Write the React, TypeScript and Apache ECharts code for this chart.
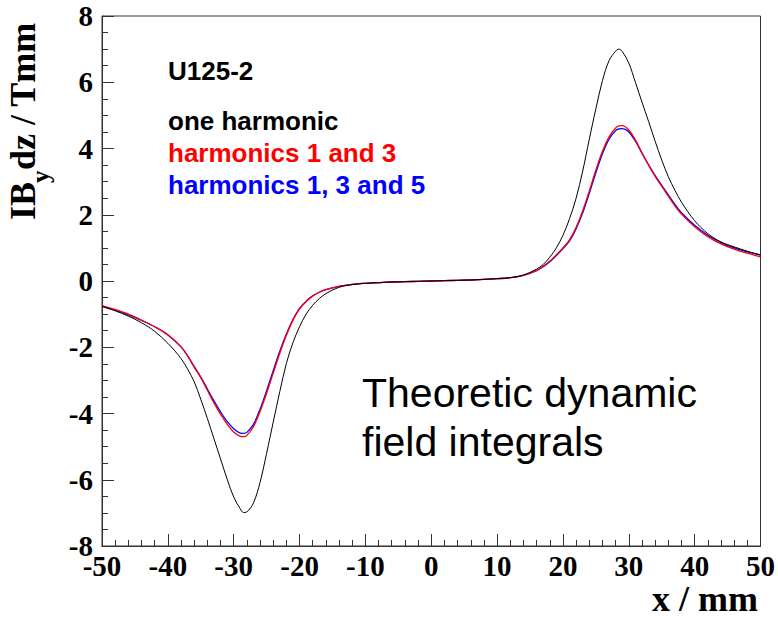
import React, { useEffect, useRef } from "react";
import * as echarts from "echarts";

// Longitudinal position x (mm)
const xPositions = [
  -50, -48, -46, -44, -42, -40, -38,
  -37, -36, -35, -34, -33, -32, -31, -30, -29, -28.5, -28, -27, -26, -25, -24, -23, -22, -21, -20, -19, -18, -17, -16,
  -14, -12, -10, -8, -6, -4, -2, 0, 2, 4, 6, 8, 10, 12, 14,
  16, 17, 18, 19, 20, 21, 22, 23, 24, 25, 26, 27, 28, 28.5, 29, 30, 31, 32, 33, 34, 35, 36, 37,
  38, 40, 42, 44, 46, 48, 50,
];

// Field integral, fundamental only (T mm)
const oneHarmonic = [
  -0.77, -0.9, -1.06, -1.26, -1.52, -1.88, -2.34,
  -2.66, -3.04, -3.57, -4.15, -4.76, -5.37, -5.98, -6.52, -6.88, -6.99, -6.97, -6.7, -6.08, -5.2, -4.26, -3.34, -2.49, -1.86, -1.38, -1.0, -0.73, -0.53, -0.38,
  -0.19, -0.11, -0.07, -0.05, -0.03, -0.02, -0.01, 0, 0.01, 0.02, 0.03, 0.05, 0.07, 0.1, 0.18,
  0.36, 0.5, 0.72, 1.0, 1.38, 1.88, 2.5, 3.32, 4.28, 5.2, 6.05, 6.65, 6.94, 7.0, 6.93, 6.58, 6.0, 5.4, 4.82, 4.22, 3.65, 3.15, 2.74,
  2.38, 1.82, 1.43, 1.18, 1.03, 0.9, 0.78,
];

// Field integral, harmonics 1 and 3 (T mm)
const harmonics13 = [
  -0.74, -0.86, -1.0, -1.18, -1.38, -1.62, -1.98,
  -2.26, -2.6, -2.92, -3.3, -3.68, -4.02, -4.32, -4.56, -4.69, -4.7, -4.66, -4.4, -3.94, -3.39, -2.78, -2.18, -1.64, -1.18, -0.84, -0.62, -0.45, -0.34, -0.26,
  -0.16, -0.1, -0.07, -0.05, -0.03, -0.02, -0.01, 0, 0.01, 0.02, 0.03, 0.05, 0.07, 0.1, 0.17,
  0.32, 0.45, 0.6, 0.79, 1.0, 1.24, 1.62, 2.12, 2.72, 3.35, 3.92, 4.35, 4.62, 4.68, 4.69, 4.56, 4.26, 3.87, 3.5, 3.16, 2.86, 2.56, 2.27,
  2.02, 1.64, 1.34, 1.12, 0.96, 0.84, 0.73,
];

// Field integral, harmonics 1, 3 and 5 (T mm)
const harmonics135 = [
  -0.76, -0.88, -1.02, -1.19, -1.38, -1.63, -1.99,
  -2.26, -2.58, -2.9, -3.26, -3.62, -3.95, -4.24, -4.46, -4.59, -4.6, -4.57, -4.33, -3.87, -3.31, -2.71, -2.12, -1.6, -1.16, -0.83, -0.61, -0.45, -0.34, -0.26,
  -0.16, -0.1, -0.07, -0.05, -0.03, -0.02, -0.01, 0, 0.01, 0.02, 0.03, 0.05, 0.07, 0.1, 0.17,
  0.31, 0.43, 0.58, 0.77, 0.98, 1.21, 1.58, 2.06, 2.65, 3.27, 3.84, 4.28, 4.54, 4.59, 4.6, 4.5, 4.22, 3.86, 3.51, 3.18, 2.89, 2.6, 2.31,
  2.06, 1.68, 1.38, 1.16, 1.0, 0.88, 0.79,
];

const seriesNames = ["one harmonic", "harmonics 1 and 3", "harmonics 1, 3 and 5"];
const seriesColors = ["#000000", "#ff0000", "#0000ff"];
const seriesValues = [oneHarmonic, harmonics13, harmonics135];

const deviceTitle = "U125-2";
const noteLines = ["Theoretic dynamic", "field integrals"];

const serif = "'Liberation Serif', 'Times New Roman', serif";
const sans = "'Liberation Sans', Arial, sans-serif";
const frameColor = "#333333";

export default function App() {
  const ref = useRef<HTMLDivElement>(null);

  useEffect(() => {
    if (!ref.current) return;
    const chart = echarts.init(ref.current, null, { renderer: "svg" });

    const series = seriesValues.map((vals, i) => ({
      name: seriesNames[i],
      type: "line" as const,
      data: xPositions.map((x, j) => [x, vals[j]]),
      showSymbol: false,
      smooth: 0.35,
      lineStyle: { color: seriesColors[i], width: i === 0 ? 1 : 1.3 },
      z: 3 - i,
    }));

    // legend lines, top-aligned boxes
    const legendTexts = seriesNames.map((name, i) => ({
      type: "text" as const,
      x: 168,
      y: 107.5 + i * 32.3,
      style: {
        text: name,
        fill: seriesColors[i],
        font: `bold 26px ${sans}`,
      },
    }));

    chart.setOption({
      animation: false,
      backgroundColor: "#ffffff",
      grid: {
        left: 102,
        right: 17,
        top: 16,
        bottom: 74,
        show: true,
        borderColor: frameColor,
        borderWidth: 1,
      },
      xAxis: {
        type: "value",
        min: -50,
        max: 50,
        interval: 10,
        axisLine: { show: true, onZero: false, lineStyle: { color: frameColor, width: 1 } },
        axisTick: { show: true, inside: true, length: 12, lineStyle: { color: frameColor } },
        minorTick: { show: true, splitNumber: 5, length: 6, lineStyle: { color: frameColor } },
        splitLine: { show: false },
        axisLabel: {
          margin: 5,
          color: "#000",
          fontFamily: serif,
          fontWeight: "bold",
          fontSize: 29,
        },
      },
      yAxis: {
        type: "value",
        min: -8,
        max: 8,
        interval: 2,
        axisLine: { show: true, onZero: false, lineStyle: { color: frameColor, width: 1 } },
        axisTick: { show: true, inside: true, length: 12, lineStyle: { color: frameColor } },
        minorTick: { show: true, splitNumber: 4, length: 6, lineStyle: { color: frameColor } },
        splitLine: { show: false },
        axisLabel: {
          margin: 9,
          color: "#000",
          fontFamily: serif,
          fontWeight: "bold",
          fontSize: 29,
        },
      },
      series,
      graphic: [
        {
          type: "group",
          x: 5,
          y: 220,
          rotation: Math.PI / 2,
          children: [
            {
              type: "text",
              x: 0,
              y: 0,
              style: { text: "IB", fill: "#000", font: `bold 36px ${serif}` },
            },
            {
              type: "text",
              x: 37,
              y: 23,
              style: { text: "y", fill: "#000", font: `bold 25px ${serif}` },
            },
            {
              type: "text",
              x: 50,
              y: 0,
              style: { text: "dz / Tmm", fill: "#000", font: `bold 36px ${serif}` },
            },
          ],
        },
        {
          type: "text",
          right: 20,
          bottom: 3,
          style: { text: "x / mm", fill: "#000", font: `bold 36px ${serif}` },
        },
        {
          type: "text",
          x: 168,
          y: 58,
          style: { text: deviceTitle, fill: "#000", font: `bold 26px ${sans}` },
        },
        ...legendTexts,
        ...noteLines.map((line, i) => ({
          type: "text" as const,
          x: 362,
          y: 372 + i * 49,
          style: { text: line, fill: "#000", font: `41px ${sans}` },
        })),
      ],
    });

    return () => chart.dispose();
  }, []);

  return (
    <div
      ref={ref}
      style={{ position: "fixed", left: 0, top: 0, width: 778, height: 620, background: "#fff" }}
    />
  );
}
